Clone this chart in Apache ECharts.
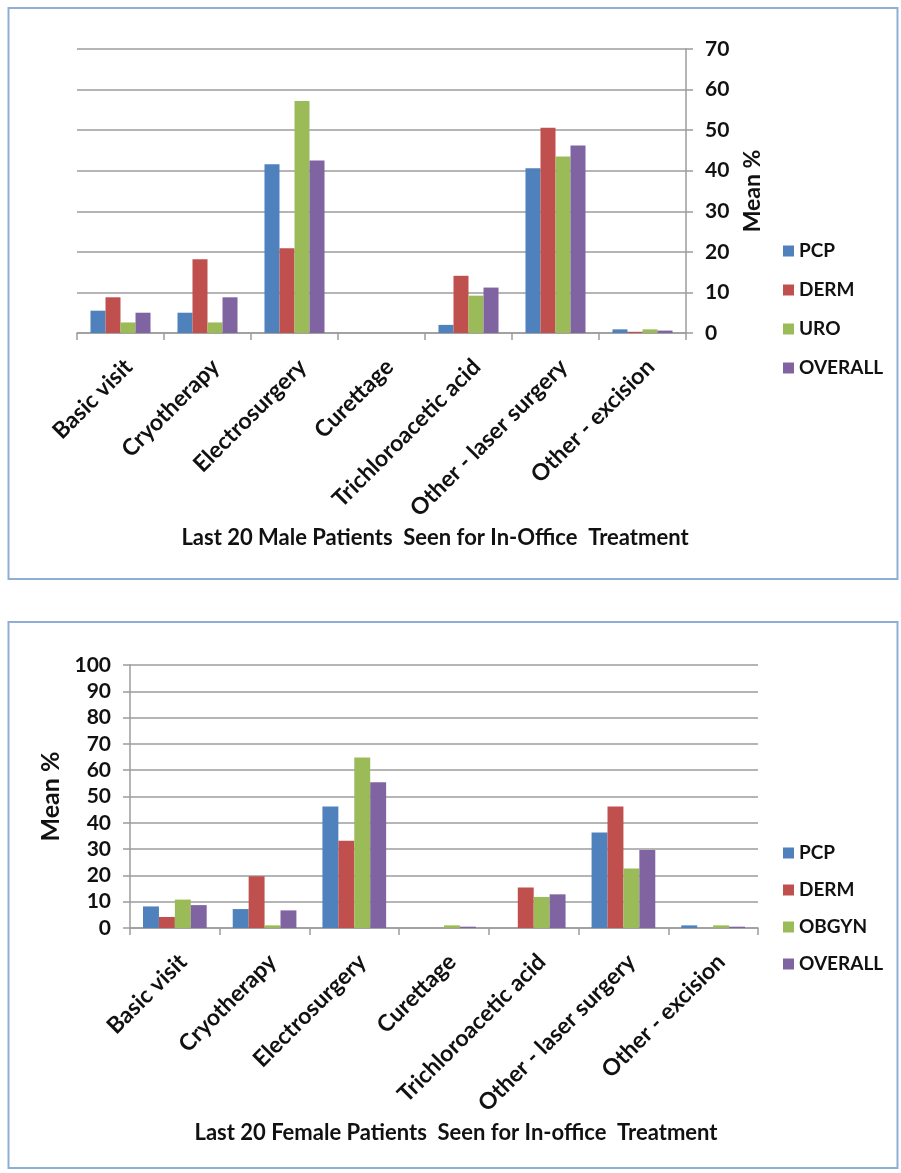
<!DOCTYPE html>
<html>
<head>
<meta charset="utf-8">
<script src="https://cdn.jsdelivr.net/npm/echarts@6/dist/echarts.min.js"></script>
<style>
  html, body { margin: 0; padding: 0; background: #ffffff; }
  #chart { width: 901px; height: 1173px; }
</style>
</head>
<body>
<div id="chart"></div>
<script>
// Treatment categories shared by both panels
const categories = ['Basic visit', 'Cryotherapy', 'Electrosurgery', 'Curettage',
  'Trichloroacetic acid', 'Other - laser surgery', 'Other - excision'];

// Male patients (mean %)
const maleGroups = ['PCP', 'DERM', 'URO', 'OVERALL'];
const malePCP     = [5.5, 5.0, 41.6, 0, 2.0, 40.6, 0.9];
const maleDERM    = [8.8, 18.2, 20.9, 0, 14.1, 50.6, 0.3];
const maleURO     = [2.6, 2.6, 57.2, 0, 9.2, 43.5, 0.9];
const maleOVERALL = [5.0, 8.8, 42.5, 0, 11.2, 46.2, 0.6];

// Female patients (mean %)
const femaleGroups = ['PCP', 'DERM', 'OBGYN', 'OVERALL'];
const femalePCP     = [8.2, 7.2, 46.2, 0, 0, 36.3, 1.0];
const femaleDERM    = [4.2, 19.7, 33.2, 0, 15.4, 46.2, 0];
const femaleOBGYN   = [10.8, 1.0, 64.8, 1.0, 11.8, 22.6, 1.0];
const femaleOVERALL = [8.7, 6.7, 55.4, 0.5, 12.8, 29.7, 0.5];

const maleTitle = 'Last 20 Male Patients  Seen for In-Office  Treatment';
const femaleTitle = 'Last 20 Female Patients  Seen for In-office  Treatment';
const yName = 'Mean %';

const palette = ['#4F81BD', '#C0504D', '#9BBB59', '#8064A2'];
const FONT = 'Lato, "Open Sans", sans-serif';
const gridColor = '#9c9c9c';
const textColor = '#111111';

function catAxis(gridIndex) {
  return {
    type: 'category',
    gridIndex: gridIndex,
    data: categories,
    boundaryGap: true,
    axisLine: { show: true, lineStyle: { color: gridColor, width: 1.5 } },
    axisTick: { show: true, alignWithLabel: false, length: 7, lineStyle: { color: gridColor, width: 1.5 } },
    axisLabel: {
      interval: 0, rotate: 45, margin: 22, verticalAlign: 'top',
      fontFamily: FONT, fontWeight: 'bold', fontSize: 23, color: textColor
    },
    splitLine: { show: false }
  };
}

function valAxis(gridIndex, max, position, nameGap, nameSize) {
  return {
    type: 'value',
    gridIndex: gridIndex,
    position: position,
    min: 0, max: max, interval: 10,
    name: yName,
    nameLocation: 'middle',
    nameGap: nameGap,
    nameRotate: 90,
    nameTextStyle: { fontFamily: FONT, fontWeight: 'bold', fontSize: nameSize, color: textColor },
    axisLine: { show: true, lineStyle: { color: gridColor, width: 1.5 } },
    axisTick: { show: true, length: 7, lineStyle: { color: gridColor, width: 1.5 } },
    axisLabel: { margin: 19, fontFamily: FONT, fontWeight: 'bold', fontSize: 21, color: textColor },
    splitLine: { show: true, lineStyle: { color: gridColor, width: 1.5 } }
  };
}

function barSeries(names, values, axisIndex, gap) {
  return names.map((n, i) => ({
    name: n,
    type: 'bar',
    xAxisIndex: axisIndex,
    yAxisIndex: axisIndex,
    data: values[i],
    barGap: '0%',
    barCategoryGap: gap,
    itemStyle: { color: palette[i] }
  }));
}

function legend(names, top, gap) {
  return {
    orient: 'vertical',
    left: 783, top: top,
    padding: 0,
    itemWidth: 11, itemHeight: 11, itemGap: gap,
    icon: 'rect',
    selectedMode: false,
    data: names,
    textStyle: { fontFamily: FONT, fontWeight: 'bold', fontSize: 19, color: textColor, lineHeight: 20 }
  };
}

const chart = echarts.init(document.getElementById('chart'), null, { renderer: 'canvas' });

chart.setOption({
  animation: false,
  backgroundColor: '#ffffff',
  grid: [
    { left: 77, top: 49, width: 609, height: 284 },
    { left: 130, top: 665, width: 628, height: 263 }
  ],
  xAxis: [catAxis(0), catAxis(1)],
  yAxis: [
    valAxis(0, 70, 'right', 55, 23),
    valAxis(1, 100, 'left', 61, 25)
  ],
  legend: [legend(maleGroups, 241, 19), legend(femaleGroups, 843, 17)],
  series: [
    ...barSeries(maleGroups, [malePCP, maleDERM, maleURO, maleOVERALL], 0, '31%'),
    ...barSeries(femaleGroups, [femalePCP, femaleDERM, femaleOBGYN, femaleOVERALL], 1, '29%')
  ],
  graphic: [
    { type: 'rect', shape: { x: 8.5, y: 8, width: 889, height: 571 }, silent: true,
      style: { fill: 'none', stroke: '#8eaed8', lineWidth: 2 } },
    { type: 'rect', shape: { x: 8.5, y: 622, width: 889, height: 546 }, silent: true,
      style: { fill: 'none', stroke: '#8eaed8', lineWidth: 2 } },
    { type: 'text', x: 435, y: 538, silent: true,
      style: { text: maleTitle, align: 'center', verticalAlign: 'middle',
        font: 'bold 22px ' + FONT, fill: textColor } },
    { type: 'text', x: 456, y: 1133, silent: true,
      style: { text: femaleTitle, align: 'center', verticalAlign: 'middle',
        font: 'bold 22px ' + FONT, fill: textColor } }
  ]
});
</script>
</body>
</html>
